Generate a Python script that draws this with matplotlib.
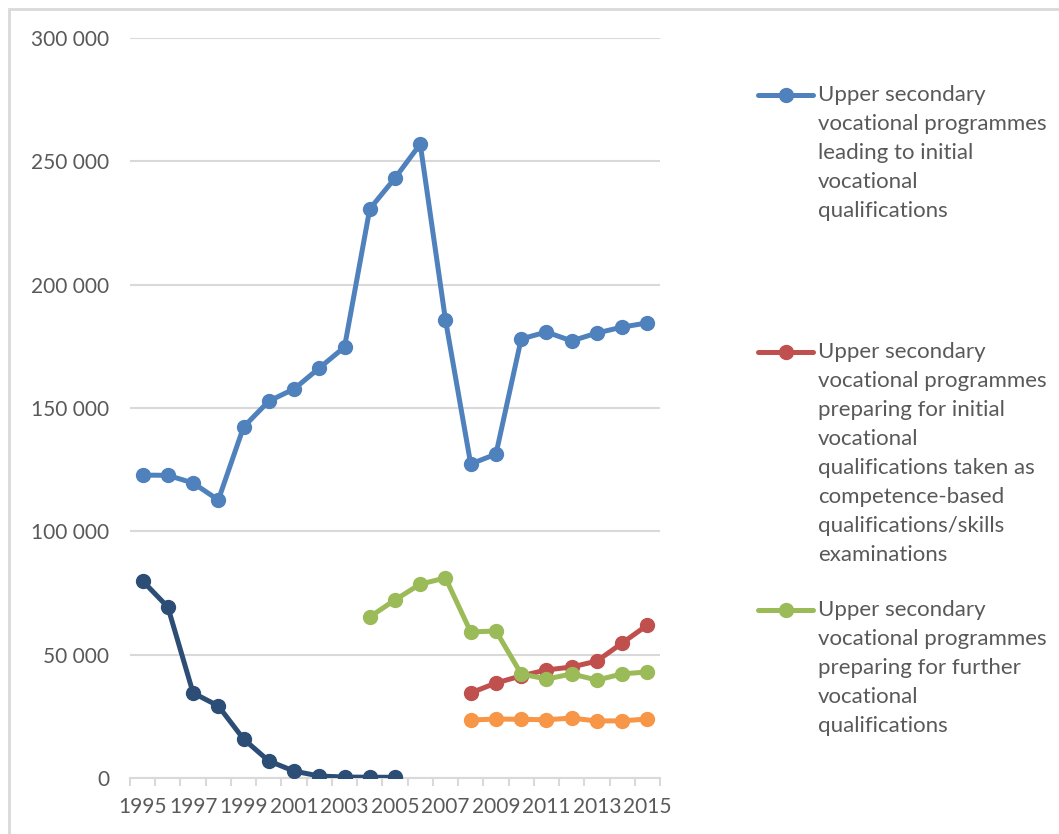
import matplotlib
matplotlib.use("Agg")
import matplotlib.pyplot as plt
from matplotlib.lines import Line2D
from matplotlib.patches import Rectangle
import numpy as np

plt.rcParams['font.family'] = ['Lato', 'DejaVu Sans']

years = list(range(1995, 2016))

initial_years = list(range(1995, 2016))
initial_vals = [122800, 122700, 119600, 112700, 142300, 152800, 157700, 166200, 174700,
                230700, 243200, 257000, 185700, 127300, 131300, 178000, 180800, 177200,
                180400, 182800, 184500]

old_years = list(range(1995, 2006))
old_vals = [79900, 69300, 34500, 29200, 15800, 6900, 2800, 800, 400, 300, 300]

further_years = list(range(2004, 2016))
further_vals = [65300, 72200, 78600, 81100, 59200, 59600, 42200, 40100, 42200, 39700, 42200, 43000]

competence_years = list(range(2008, 2016))
competence_vals = [34500, 38500, 41400, 43800, 45000, 47400, 54700, 62000]

other_years = list(range(2008, 2016))
other_vals = [23500, 23900, 23800, 23600, 24300, 23100, 23200, 23900]

yticks = [0, 50000, 100000, 150000, 200000, 250000, 300000]
ytick_labels = ['0', '50 000', '100 000', '150 000', '200 000', '250 000', '300 000']
xlabel_years = list(range(1995, 2016, 2))

legend_labels = [
    "Upper secondary\nvocational programmes\nleading to initial\nvocational\nqualifications",
    "Upper secondary\nvocational programmes\npreparing for initial\nvocational\nqualifications taken as\ncompetence-based\nqualifications/skills\nexaminations",
    "Upper secondary\nvocational programmes\npreparing for further\nvocational\nqualifications",
]

C_BLUE = '#4F81BD'
C_RED = '#C0504D'
C_GREEN = '#9BBB59'
C_NAVY = '#2C4D75'
C_ORANGE = '#F79646'
TXT = '#595959'
GRID = '#D9D9D9'

W, H = 1059, 834
fig = plt.figure(figsize=(W / 100, H / 100), dpi=100)
ax = fig.add_axes([130 / W, 1 - 778 / H, (660 - 130) / W, (778 - 38) / H])

lw = 3.6
ms = 10
for xs, ys, c in [(initial_years, initial_vals, C_BLUE),
                  (competence_years, competence_vals, C_RED),
                  (further_years, further_vals, C_GREEN),
                  (old_years, old_vals, C_NAVY),
                  (other_years, other_vals, C_ORANGE)]:
    ax.plot(xs, ys, color=c, lw=lw, marker='o', ms=ms, solid_joinstyle='round',
            solid_capstyle='round', zorder=3)

ax.set_xlim(1994.5, 2015.5)
ax.set_ylim(0, 300000)
ax.set_yticks(yticks)
ax.set_yticklabels(ytick_labels)
ax.yaxis.grid(True, color=GRID, lw=1.5)
ax.set_axisbelow(True)
for s in ['top', 'right', 'left']:
    ax.spines[s].set_visible(False)
ax.spines['bottom'].set_color(GRID)
ax.spines['bottom'].set_linewidth(1.5)
ax.tick_params(axis='y', length=0, pad=15, labelsize=15, labelcolor=TXT)

ax.set_xticks(np.arange(1994.5, 2016, 1.0))
ax.set_xticklabels([])
ax.set_xticks(xlabel_years, minor=True)
ax.set_xticklabels([str(y) for y in xlabel_years], minor=True)
ax.tick_params(axis='x', which='major', length=6, width=1.5, color=GRID)
ax.tick_params(axis='x', which='minor', length=0, pad=14, labelsize=15, labelcolor=TXT)

# border
fig.add_artist(Rectangle((9 / W, -0.1), 1.2, 1 - 9 / H + 0.1, transform=fig.transFigure,
                         fill=False, edgecolor=GRID, lw=2))

# legend
entries = [(C_BLUE, 95), (C_RED, 352), (C_GREEN, 610)]
for (c, ytop), lab in zip(entries, legend_labels):
    yf = 1 - ytop / H
    fig.add_artist(Line2D([758 / W, 813 / W], [yf, yf], transform=fig.transFigure,
                          color=c, lw=lw, solid_capstyle='round'))
    fig.add_artist(Line2D([785.5 / W], [yf], transform=fig.transFigure,
                          color=c, marker='o', ms=ms, lw=0))
    fig.text(818 / W, yf + 10 / H, lab, ha='left', va='top', fontsize=16,
             color=TXT, linespacing=1.56)

fig.savefig('out.png', dpi=100)
